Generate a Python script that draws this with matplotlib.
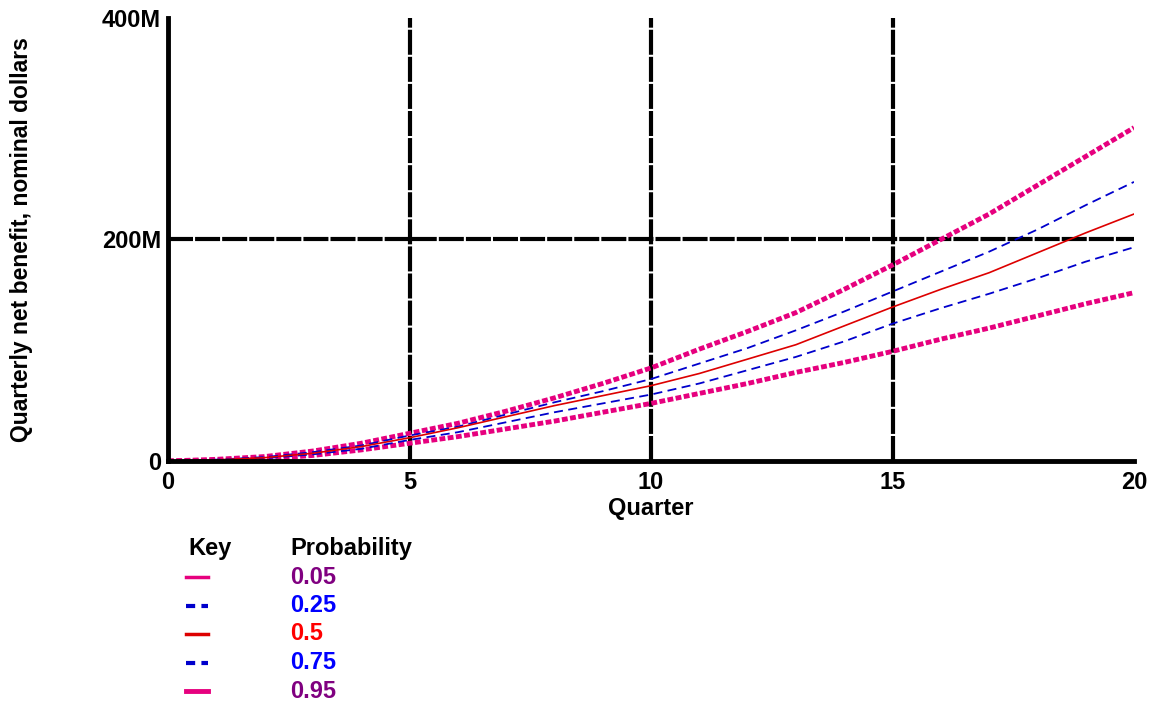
import matplotlib.pyplot as plt
from matplotlib.lines import Line2D
import numpy as np

plt.rcParams['font.family'] = ['Liberation Sans', 'DejaVu Sans']
plt.rcParams['font.weight'] = 'bold'

# quarterly net benefit (millions of dollars) by probability level
quarters = list(range(0, 21))
p05 = [0, 0.5, 2, 5, 10, 16, 22, 29, 36, 44, 52, 61, 70, 80, 89, 99, 110, 120, 131, 142, 152]
p25 = [0, 0.8, 2.5, 6, 11, 19, 26, 35, 44, 52, 60, 70, 82, 94, 108, 124, 138, 151, 165, 180, 193]
p50 = [0, 1, 3, 7, 13, 21, 30, 40, 50, 59, 68, 79, 92, 105, 122, 139, 155, 170, 188, 206, 223]
p75 = [0, 1.2, 3.5, 8, 14, 23, 31, 42, 53, 63, 74, 88, 102, 118, 135, 153, 171, 189, 209, 231, 252]
p95 = [0, 1.5, 4, 9, 16, 25, 34, 45, 57, 70, 84, 101, 117, 134, 155, 177, 200, 223, 249, 275, 301]

prob_labels = ['0.05', '0.25', '0.5', '0.75', '0.95']
label_colors = ['#800080', '#0000FF', '#FF0000', '#0000FF', '#800080']

pink = '#E6007E'
blue = '#0000CC'
red = '#DD0000'
FS = 17

fig = plt.figure(figsize=(11.49, 7.02), dpi=100)
ax = fig.add_axes([168 / 1149, 1 - 461 / 702, (1134 - 168) / 1149, (461 - 18) / 702])

# grid lines (thick black, broken)
for gx in [5, 10, 15]:
    ax.plot([gx, gx], [0, 400], color='black', lw=3, linestyle=(0, (6, 0.5)), zorder=1)
ax.plot([0, 20], [200, 200], color='black', lw=3, linestyle=(0, (6, 0.5)), zorder=1)

ax.plot(quarters, p05, color=pink, lw=3.5, linestyle=(0, (1.2, 0.5)), zorder=3)
ax.plot(quarters, p95, color=pink, lw=3.5, linestyle=(0, (1.2, 0.5)), zorder=3)
ax.plot(quarters, p25, color=blue, lw=1.3, linestyle=(0, (5, 3)), zorder=3)
ax.plot(quarters, p75, color=blue, lw=1.3, linestyle=(0, (5, 3)), zorder=3)
ax.plot(quarters, p50, color=red, lw=1.2, zorder=4)

ax.set_xlim(0, 20)
ax.set_ylim(0, 400)
ax.set_xticks([0, 5, 10, 15, 20])
ax.set_yticks([0, 200, 400])
ax.set_yticklabels(['0', '200M', '400M'])
ax.tick_params(length=0, labelsize=FS)
ax.tick_params(axis='y', pad=5)
ax.tick_params(axis='x', pad=7)
for s in ['top', 'right']:
    ax.spines[s].set_visible(False)
for s in ['left', 'bottom']:
    ax.spines[s].set_linewidth(3.5)
    ax.spines[s].set_zorder(5)

ax.set_xlabel('Quarter', fontsize=FS, fontweight='bold', labelpad=2)
ax.set_ylabel('Quarterly net benefit, nominal dollars', fontsize=16.5,
              fontweight='bold', va='center')
ax.yaxis.set_label_coords((22 - 168) / 966, 0.5)

# key
W, H = 1149, 702
fig.text(188 / W, 1 - 548 / H, 'Key', fontsize=FS, fontweight='bold', va='center')
fig.text(290 / W, 1 - 548 / H, 'Probability', fontsize=FS, fontweight='bold', va='center')
key_styles = [
    dict(color=pink, lw=2.5, linestyle='-'),
    dict(color=blue, lw=3, linestyle=(0, (2.2, 1.5))),
    dict(color=red, lw=2.5, linestyle='-'),
    dict(color=blue, lw=3, linestyle=(0, (2.2, 1.5))),
    dict(color=pink, lw=3.5, linestyle='-'),
]
for i, (lab, col, st) in enumerate(zip(prob_labels, label_colors, key_styles)):
    yy = 1 - (577 + 28.5 * i) / H
    fig.add_artist(Line2D([186 / W, 208 / W], [yy, yy], transform=fig.transFigure, **st))
    fig.text(290 / W, yy, lab, fontsize=FS, fontweight='bold', color=col, va='center')

fig.savefig('out.png', dpi=100)
